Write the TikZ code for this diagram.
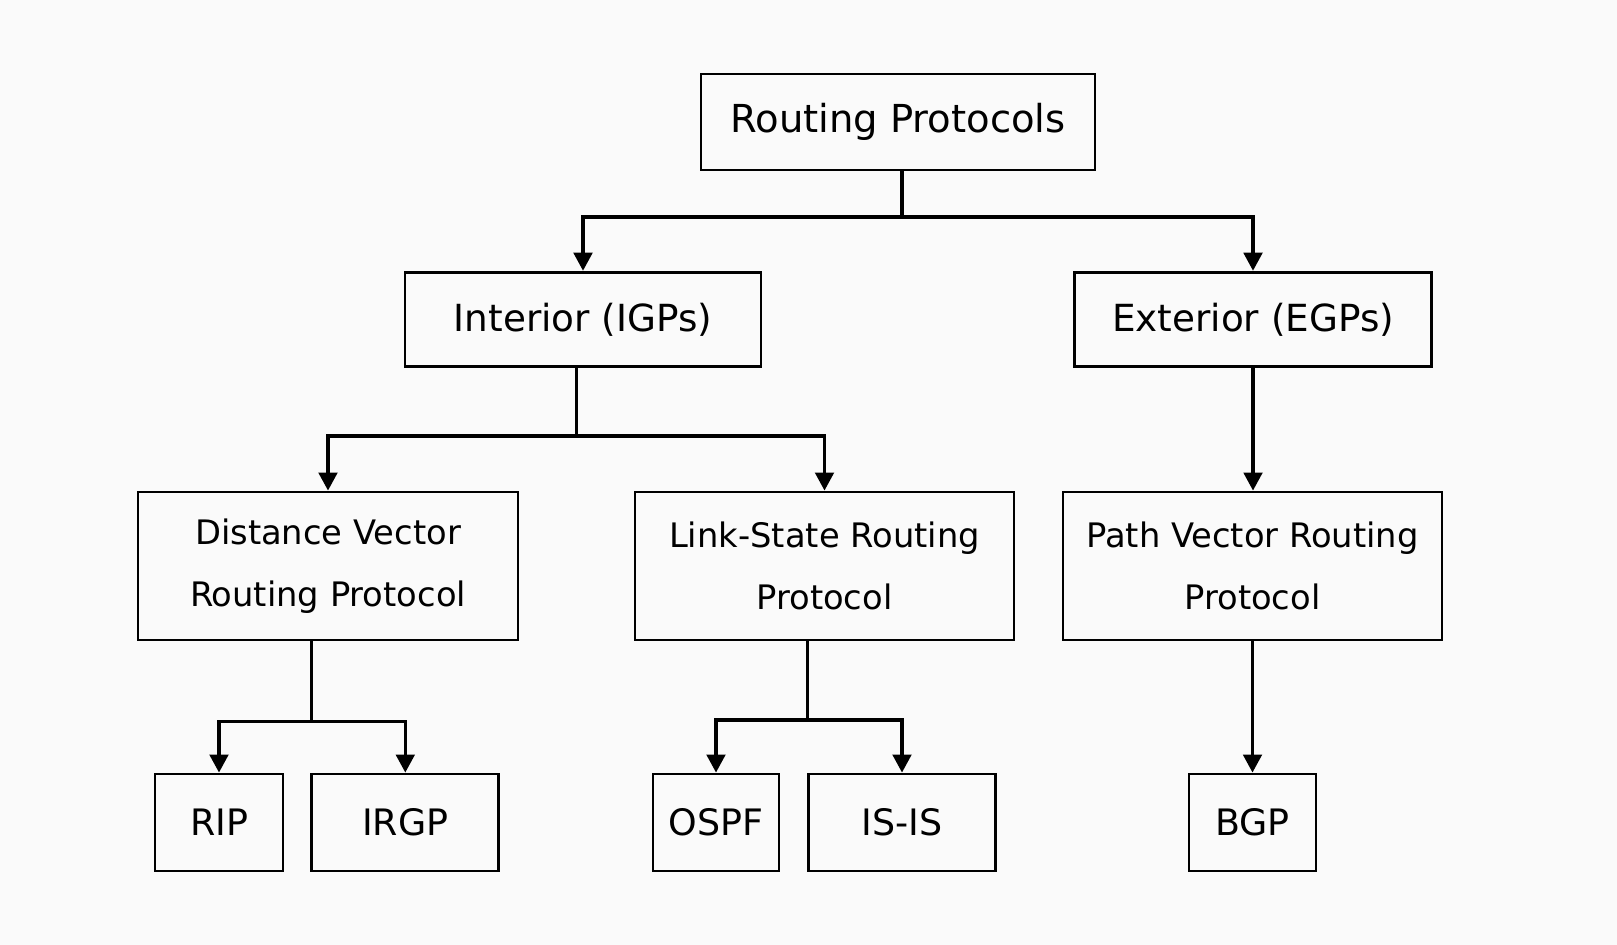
\documentclass[tikz,border=0pt]{standalone}
\usepackage{fontspec}
\setmainfont{DejaVu Sans}
\usetikzlibrary{arrows.meta}
\definecolor{bgc}{HTML}{FAFAFA}
\begin{document}
\begin{tikzpicture}[x=0.75pt,y=-0.75pt,
  box/.style={draw=black,line width=2.2pt,rectangle,inner sep=0pt,align=center},
  lvla/.style={box,font=\fontsize{28.9}{34}\selectfont},
  lvlb/.style={box,font=\fontsize{28}{34}\selectfont},
  lvlc/.style={box,font=\fontsize{25.3}{46.5}\selectfont},
  lvld/.style={box,font=\fontsize{27.3}{34}\selectfont},
  conn/.style={draw=black,line width=2.3pt},
  arr/.style={conn,-{Triangle[length=13.5pt,width=14pt]}}]
\fill[bgc] (0,0) rectangle (1617,945);
\useasboundingbox (0,0) rectangle (1617,945);
\node[lvla,minimum width=295.5pt,minimum height=72pt] (root) at (898,122) {Routing Protocols};
\node[lvlb,minimum width=267pt,minimum height=71pt] (int) at (583,319.5) {Interior (IGPs)};
\node[lvlb,minimum width=267.75pt,minimum height=71pt] (ext) at (1253,319.5) {Exterior (EGPs)};
\node[lvlc,minimum width=285pt,minimum height=111pt] (dv) at (328,566) {Distance Vector\\Routing Protocol};
\node[lvlc,minimum width=284.25pt,minimum height=111pt] (ls) at (824.5,566) {Link-State Routing\\Protocol};
\node[lvlc,minimum width=284.25pt,minimum height=111pt] (pv) at (1252.5,566) {Path Vector Routing\\Protocol};
\node[lvld,minimum width=96pt,minimum height=72.75pt] (rip) at (219,822.5) {RIP};
\node[lvld,minimum width=140.25pt,minimum height=72.75pt] (irgp) at (405.3,822.5) {IRGP};
\node[lvld,minimum width=94.5pt,minimum height=72.75pt] (ospf) at (716,822.5) {OSPF};
\node[lvld,minimum width=140.6pt,minimum height=72.75pt] (isis) at (902,822.5) {IS-IS};
\node[lvld,minimum width=95.25pt,minimum height=72.75pt] (bgp) at (1252.5,822.5) {BGP};
\coordinate (rb) at (902,217);
\coordinate (ib) at (576.5,436);
\coordinate (db) at (311.7,721.7);
\coordinate (lb) at (807.5,720);
\draw[conn] (root.south -| rb) -- (rb);
\draw[arr] (rb) -| (int.north);
\draw[arr] (rb) -| (ext.north);
\draw[conn] (int.south -| ib) -- (ib);
\draw[arr] (ib) -| (dv.north);
\draw[arr] (ib) -| (ls.north);
\draw[arr] (ext.south) -- (ext.south |- pv.north);
\draw[conn] (dv.south -| db) -- (db);
\draw[arr] (db) -| (rip.north);
\draw[arr] (db) -| (irgp.north);
\draw[conn] (ls.south -| lb) -- (lb);
\draw[arr] (lb) -| (ospf.north);
\draw[arr] (lb) -| (isis.north);
\draw[arr] (pv.south) -- (bgp.north);
\end{tikzpicture}
\end{document}
